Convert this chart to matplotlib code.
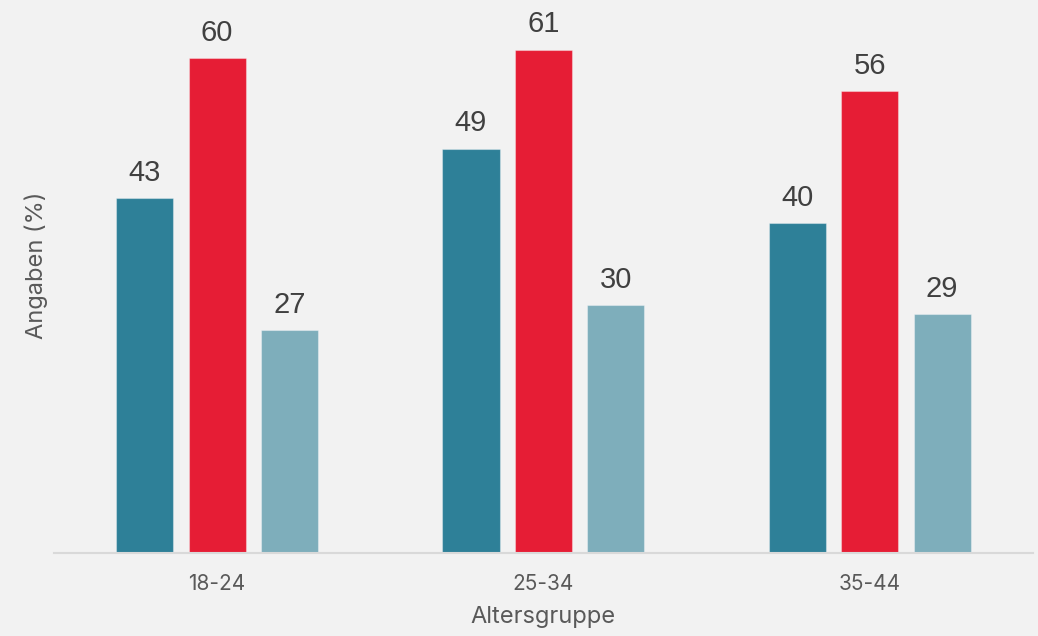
import matplotlib
matplotlib.use("Agg")
import matplotlib.pyplot as plt
import numpy as np

# age groups and the three series per group
groups = ["18-24", "25-34", "35-44"]
series_a = [43, 49, 40]
series_b = [60, 61, 56]
series_c = [27, 30, 29]

colors = ["#2e8098", "#e61d35", "#7eaebb"]
bg = "#f2f2f2"

fig = plt.figure(figsize=(10.38, 6.36), dpi=100, facecolor=bg)
ax = fig.add_axes([0.052, 0.1305, 0.943, 0.8695], facecolor=bg)

x = np.arange(len(groups))
width = 0.175
pitch = 0.222

for i, (vals, col) in enumerate(zip([series_a, series_b, series_c], colors)):
    bars = ax.bar(x + (i - 1) * pitch, vals, width, color=col,
                  edgecolor=(1, 1, 1, 0.35), linewidth=0.8, zorder=2)
    for b, v in zip(bars, vals):
        ax.annotate(str(v), (b.get_x() + b.get_width() / 2, v),
                    xytext=(0, 8), textcoords="offset points",
                    ha="center", va="bottom", fontsize=21,
                    family="Liberation Sans", color="#404040")

ax.set_xlim(-0.5, 2.5)
ax.set_ylim(0, 67)

for s in ["top", "right", "left"]:
    ax.spines[s].set_visible(False)
ax.spines["bottom"].set_color("#d9d9d9")
ax.spines["bottom"].set_linewidth(1.5)
ax.set_yticks([])
ax.set_xticks(x)
ax.set_xticklabels(groups, fontsize=15, family="Inter", color="#595959")
ax.tick_params(axis="x", length=0, pad=15)

ax.set_xlabel("Altersgruppe", fontsize=17, family="Inter", color="#595959", labelpad=9)
ax.set_ylabel("Angaben (%)", fontsize=17, family="Inter", color="#595959")
ax.yaxis.set_label_coords(-0.006, 0.52)

fig.savefig("out.png", dpi=100, facecolor=bg)
